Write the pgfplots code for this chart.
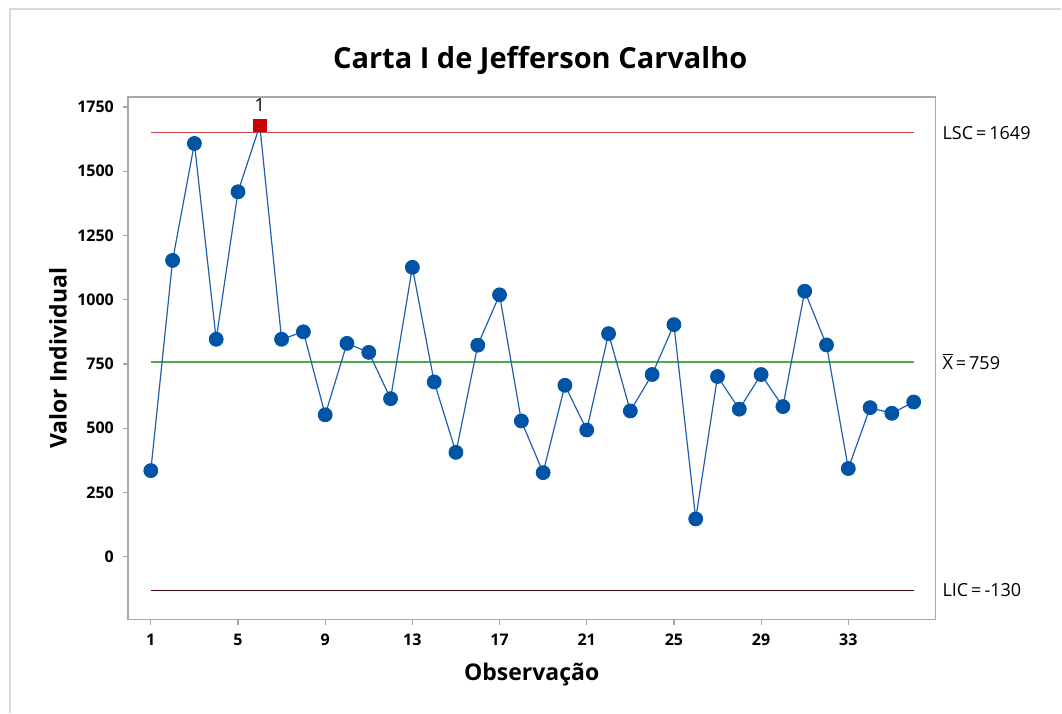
\documentclass[border=0pt]{standalone}
\usepackage{pgfplots}
\pgfplotsset{compat=1.18}
\usepackage{pgfplotstable}
\usepackage{fontspec}
\setmainfont{Open Sans}
\definecolor{mblue}{HTML}{0054A6}
\definecolor{mline}{HTML}{1F5FAD}
\definecolor{mred}{HTML}{CC0000}
\definecolor{colUCL}{HTML}{D04545}
\definecolor{colGreen}{RGB}{80,170,80}
\definecolor{colLCL}{HTML}{3A0A0A}
\definecolor{colFrame}{HTML}{A8A8A8}
\pgfplotstableread{
obs val
1 335
2 1153
3 1608
4 846
5 1420
6 1678
7 846
8 875
9 552
10 830
11 795
12 615
13 1126
14 680
15 406
16 823
17 1019
18 528
19 327
20 667
21 493
22 868
23 567
24 709
25 903
26 147
27 701
28 574
29 709
30 584
31 1033
32 824
33 343
34 580
35 558
36 602
}\datatable
\begin{document}
\begin{tikzpicture}
\path (0,0) rectangle (531pt,356.5pt);
\draw[black!15, line width=0.6pt] (5pt,0) -- (5pt,352pt) -- (531pt,352pt);
\begin{axis}[
  at={(64pt,46.5pt)}, anchor=south west,
  width=404pt, height=261.5pt, scale only axis,
  xmin=-0.05, xmax=37, ymin=-245, ymax=1789,
  xtick={1,5,9,13,17,21,25,29,33},
  ytick={0,250,500,750,1000,1250,1500,1750},
  tick pos=left, tick align=outside,
  major tick length=2.5pt,
  axis line style={colFrame, line width=0.6pt},
  every tick/.style={colFrame, line width=0.6pt},
  /pgf/number format/assume math mode=true,
  /pgf/number format/.cd, set thousands separator={}, 1000 sep={},
  /pgfplots/.cd,
  ticklabel style={font=\fontsize{8}{9}\selectfont\bfseries, text=black},
  xticklabel style={yshift=-1pt},
  yticklabel style={xshift=-1pt},
  every axis title/.style={at={(axis description cs:0.5105,1.0707)}, anchor=center, font=\fontsize{14.5}{17}\selectfont\bfseries},
  title={Carta I de Jefferson Carvalho},
  every axis x label/.style={at={(axis description cs:0.5,-0.105)}, anchor=center, font=\fontsize{11.5}{13}\selectfont\bfseries},
  xlabel={Observação},
  every axis y label/.style={at={(axis description cs:-0.0866,0.5)}, anchor=center, rotate=90, font=\fontsize{11.5}{13}\selectfont\bfseries},
  ylabel={Valor Individual},
  clip=false,
]
\addplot[draw=colUCL, line width=0.55pt] coordinates {(1,1649) (36,1649)};
\addplot[draw=colGreen, line width=1pt] coordinates {(1,759) (36,759)};
\addplot[draw=colLCL, line width=0.55pt] coordinates {(1,-130) (36,-130)};
\addplot[draw=mline, line width=0.6pt, no marks] table[x=obs, y=val] {\datatable};
\addplot[only marks, mark=*, mark size=3.5pt, mark options={fill=mblue, draw=mblue}, x filter/.expression={x==6 ? nan : x}] table[x=obs, y=val] {\datatable};
\addplot[only marks, mark=square*, mark size=3.2pt, mark options={fill=mred, draw=mred}, x filter/.expression={x==6 ? x : nan}] table[x=obs, y=val] {\datatable}
  node[pos=0, anchor=south, yshift=3.5pt, font=\fontsize{9}{10}\selectfont] {1};
\node[anchor=west, font=\fontsize{9}{10}\selectfont] at (axis cs:37,1649) {LSC\,=\,1649};
\node[anchor=west, font=\fontsize{9}{10}\selectfont] at (axis cs:37,759) {\ensuremath{\overline{\mbox{X}}}\,=\,759};
\node[anchor=west, font=\fontsize{9}{10}\selectfont] at (axis cs:37,-130) {LIC\,=\,-130};
\end{axis}
\end{tikzpicture}
\end{document}
